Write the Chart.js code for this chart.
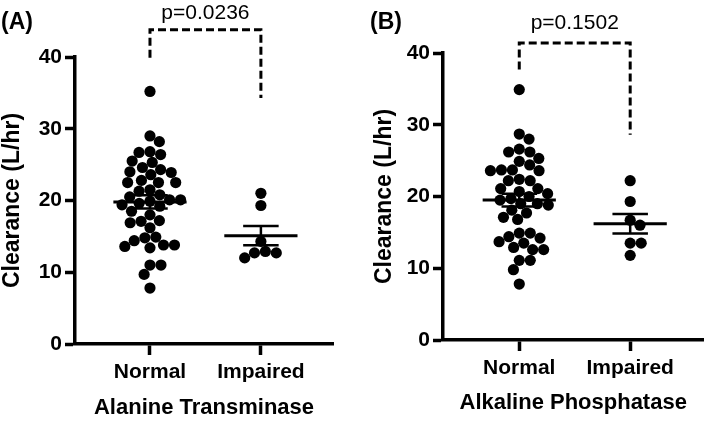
<!DOCTYPE html>
<html>
<head>
<meta charset="utf-8">
<script src="https://cdn.jsdelivr.net/npm/chart.js@4/dist/chart.umd.min.js"></script>
<style>
  body { margin: 0; background: #fff; }
  .panel { position: absolute; top: 0; height: 424px; }
</style>
</head>
<body>
<div class="panel" style="left:0;width:354px"><canvas id="chartA" width="354" height="424"></canvas></div>
<div class="panel" style="left:354px;width:355px"><canvas id="chartB" width="355" height="424"></canvas></div>
<script>
// data
var categories = ['Normal', 'Impaired'];
var yTitle = 'Clearance (L/hr)';
var yTicks = [0, 10, 20, 30, 40];

var altNormal = [35.2, 29.0, 28.2, 26.7, 26.8, 26.4, 25.5, 25.3, 24.6, 24.3, 24.0, 23.9, 23.6,
  22.5, 22.5, 22.5, 22.8, 21.5, 21.3, 20.8, 20.5, 20.1, 20.1, 19.9, 19.6, 19.4, 19.2,
  18.5, 18.0, 17.1, 17.2, 16.9, 16.2, 14.4, 14.8, 14.9, 13.4, 13.8, 13.6, 13.8,
  11.0, 11.0, 9.7, 7.8];
var altImpaired = [21.0, 19.3, 14.3, 12.0, 12.9, 12.7, 12.7];
var altMean = [19.8, 15.1];
var altSem = [0.93, 1.35];

var alpNormal = [34.9, 28.7, 28.0, 26.2, 26.2, 26.6, 25.3, 24.9, 24.4, 23.7, 23.7, 23.6, 23.6,
  22.2, 22.2, 22.4, 21.1, 21.1, 20.7, 20.4, 20.0, 19.7, 19.5, 19.0, 19.0, 18.8,
  18.1, 17.7, 17.1, 16.8, 14.9, 14.9, 14.4, 14.2, 13.7, 13.5, 12.9, 12.6, 12.6,
  11.1, 11.1, 9.8, 7.8];
var alpImpaired = [22.2, 19.3, 16.7, 16.0, 13.5, 13.5, 11.8];
var alpMean = [19.5, 16.2];
var alpSem = [0.9, 1.35];

// significance brackets: left foot, top, right foot
var bracketA = [39.9, 43.8, 34.3];
var bracketB = [37.7, 41.4, 28.6];

var FONT = '"Liberation Sans", Arial, sans-serif';

var panelText = {
  id: 'panelText',
  afterDraw: function(chart, args, o) {
    var ctx = chart.ctx;
    var xs = chart.scales.x, ys = chart.scales.y;
    ctx.save();
    ctx.fillStyle = '#000';
    ctx.textBaseline = 'middle';
    ctx.textAlign = 'left';
    ctx.font = 'bold 23px ' + FONT;
    ctx.fillText(o.label, o.labelX, 23);
    ctx.textAlign = 'center';
    ctx.font = '21px ' + FONT;
    ctx.fillText(o.p, xs.getPixelForValue(1.5), ys.getPixelForValue(o.top) - o.pGap);
    ctx.restore();
  }
};

function seg(x0, y0, x1, y1, w, dash) {
  return {
    data: [{x: x0, y: y0}, {x: x1, y: y1}],
    showLine: true, borderColor: '#000', borderWidth: w,
    borderDash: dash || [], pointRadius: 0, clip: false, order: 1
  };
}

function dots(values, cat) {
  return {
    data: values.map(function(v) { return {x: cat, y: v}; }),
    showLine: false, pointRadius: 5.6, pointBackgroundColor: '#000',
    pointBorderWidth: 0, pointHoverRadius: 5.6, order: 2
  };
}

// beeswarm offsets in px, top to bottom, nearest free spot to the centre
function swarm(values, pxPerValue, gap) {
  var idx = values.map(function(v, i) { return i; })
    .sort(function(a, b) { return values[b] - values[a]; });
  var placed = [], offs = [];
  idx.forEach(function(i) {
    var y = values[i] * pxPerValue;
    var cands = [0];
    placed.forEach(function(p) {
      var dy = Math.abs(p.y - y);
      if (dy < gap) {
        var w = Math.sqrt(gap * gap - dy * dy);
        cands.push(p.x + w, p.x - w);
      }
    });
    cands.sort(function(a, b) { return Math.abs(a) - Math.abs(b); });
    var best = cands.find(function(c) {
      return placed.every(function(p) { return Math.hypot(p.x - c, p.y - y) >= gap - 1e-6; });
    });
    placed.push({x: best, y: y});
    offs[i] = best;
  });
  return offs;
}

function makePanel(id, L, groups, mean, sem, bracket) {
  var meanHalf = 0.33, capHalf = 0.16;
  var sets = [dots(groups[0], 1), dots(groups[1], 2)];
  [1, 2].forEach(function(c, i) {
    sets.push(seg(c - meanHalf, mean[i], c + meanHalf, mean[i], 3));
    sets.push(seg(c - capHalf, mean[i] + sem[i], c + capHalf, mean[i] + sem[i], 2.5));
    sets.push(seg(c - capHalf, mean[i] - sem[i], c + capHalf, mean[i] - sem[i], 2.5));
    sets.push(seg(c, mean[i] - sem[i], c, mean[i] + sem[i], 2.5));
  });
  sets.push({
    data: [{x: 1, y: bracket[0]}, {x: 1, y: bracket[1]}, {x: 2, y: bracket[1]}, {x: 2, y: bracket[2]}],
    showLine: true, borderColor: '#000', borderWidth: 3, borderDash: [8, 4],
    pointRadius: 0, clip: false, order: 1
  });

  var chart = new Chart(document.getElementById(id), {
    type: 'scatter',
    data: {datasets: sets},
    plugins: [panelText],
    options: {
      responsive: false, animation: false, devicePixelRatio: 1,
      layout: {padding: {top: L.top, right: L.right, left: 0, bottom: 0}},
      events: [],
      plugins: {
        legend: {display: false}, tooltip: {enabled: false},
        panelText: {label: L.label, labelX: L.labelX, p: L.p, top: bracket[1], pGap: L.pGap}
      },
      scales: {
        x: {
          type: 'linear', min: L.xMin, max: L.xMax,
          afterBuildTicks: function(s) { s.ticks = [{value: 1}, {value: 2}]; },
          afterFit: function(s) { s.height = 424 - L.bottom; },
          border: {display: true, color: '#000', width: 3.5},
          grid: {display: true, drawOnChartArea: false, drawTicks: true, tickLength: 11, tickWidth: 3.5, tickColor: '#000'},
          ticks: {
            callback: function(v, i) { return categories[i]; },
            font: {family: FONT, size: 21, weight: 'bold'}, color: '#000',
            padding: 5, maxRotation: 0, autoSkip: false
          },
          title: {display: true, text: L.xTitle, color: '#000',
            font: {family: FONT, size: 22, weight: 'bold', lineHeight: 1},
            padding: {top: 0, bottom: L.xTitlePad}}
        },
        y: {
          min: 0, max: 40,
          afterBuildTicks: function(s) { s.ticks = yTicks.map(function(v) { return {value: v}; }); },
          afterFit: function(s) { s.width = L.left; },
          border: {display: true, color: '#000', width: 3.5},
          grid: {display: true, drawOnChartArea: false, drawTicks: true, tickLength: 10, tickWidth: 3.5, tickColor: '#000'},
          ticks: {font: {family: FONT, size: 21, weight: 'bold'}, color: '#000', padding: 3},
          title: {display: true, text: yTitle, color: '#000',
            font: {family: FONT, size: 23, weight: 'bold', lineHeight: 1},
            padding: {top: L.yTitlePad, bottom: 0}}
        }
      }
    }
  });

  // spread the dots sideways once the scales are known
  var xs = chart.scales.x, ys = chart.scales.y;
  var pxCat = xs.getPixelForValue(2) - xs.getPixelForValue(1);
  var pxVal = Math.abs(ys.getPixelForValue(1) - ys.getPixelForValue(0));
  [0, 1].forEach(function(g) {
    var offs = swarm(groups[g], pxVal, 11);
    chart.data.datasets[g].data.forEach(function(pt, k) { pt.x = g + 1 + offs[k] / pxCat; });
  });
  chart.update('none');
  return chart;
}

makePanel('chartA',
  {top: 57, right: 21, bottom: 344, left: 75, xMin: 0.324, xMax: 2.65,
   xTitle: 'Alanine Transminase', xTitlePad: 5, yTitlePad: 1,
   label: '(A)', labelX: 1, p: 'p=0.0236', pGap: 17},
  [altNormal, altImpaired], altMean, altSem, bracketA);

makePanel('chartB',
  {top: 53, right: 3, bottom: 340, left: 89, xMin: 0.3125, xMax: 2.66,
   xTitle: 'Alkaline Phosphatase', xTitlePad: 10, yTitlePad: 19,
   label: '(B)', labelX: 16, p: 'p=0.1502', pGap: 20},
  [alpNormal, alpImpaired], alpMean, alpSem, bracketB);
</script>
</body>
</html>
